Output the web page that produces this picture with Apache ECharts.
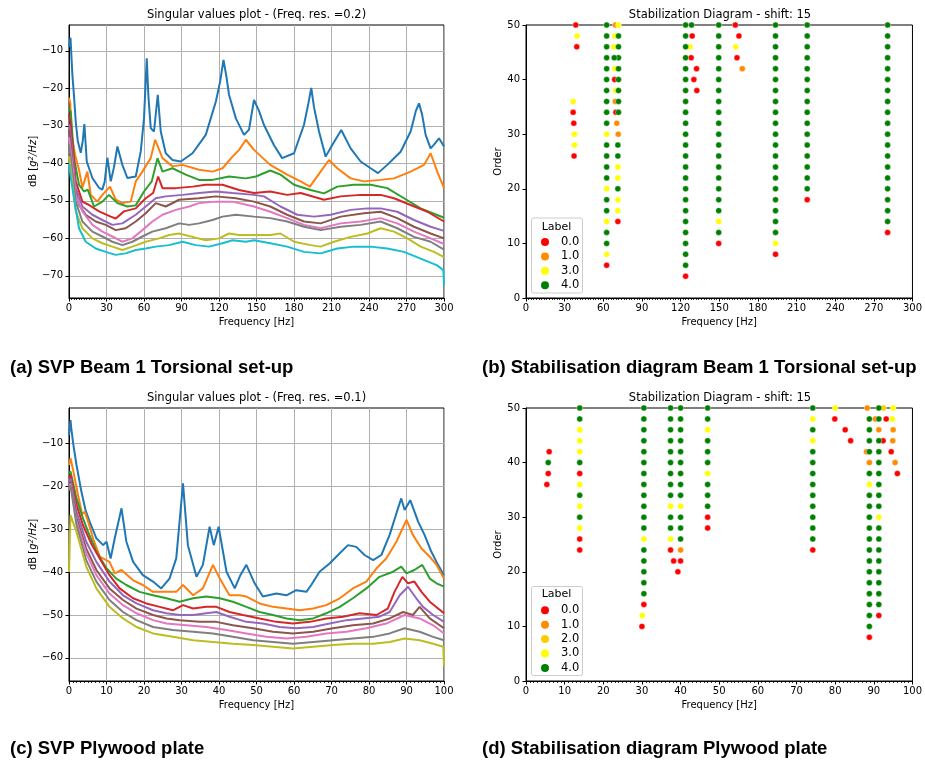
<!DOCTYPE html>
<html><head><meta charset="utf-8">
<script src="https://cdn.jsdelivr.net/npm/echarts@6/dist/echarts.min.js"></script>
<style>html,body{margin:0;padding:0;background:#fff}#c{width:925px;height:762px}</style>
</head><body><div id="c"></div>
<script>
// ---------- Panel (a): SVP Beam 1 Torsional, [freq Hz, dB] ----------
const svpA_s1 = [[0,-9],[1.2,-6.5],[2.7,-16.4],[4,-22],[5.4,-28.9],[7,-34],[9.4,-37.2],[11,-34],[12.3,-29.5],[14.2,-39.5],[18.7,-43.9],[24,-46.5],[26.6,-47],[28.5,-45],[30.7,-38.5],[33.4,-44.8],[36,-41],[38.7,-35.5],[42.7,-40.4],[46.7,-43.9],[53.4,-43.5],[57.4,-36.8],[60,-28],[62.2,-12],[63.5,-22],[65.4,-30.6],[68,-31.5],[71,-21.7],[73.4,-31.5],[77.4,-37.3],[82.8,-39.1],[89.4,-39.5],[98.8,-37.3],[109.4,-32.4],[117.5,-23.5],[121,-18],[123.6,-12.4],[126,-17],[128,-21.7],[133.5,-28],[140,-32.4],[144,-31],[148,-23.1],[149.5,-22.6],[152,-26],[155.9,-29.7],[163.9,-35.1],[170.5,-38.6],[180,-37.3],[188,-29.7],[191.5,-24],[193.8,-19.9],[196,-25],[200,-31.5],[205.3,-38.2],[210.6,-35.1],[217.8,-31.1],[225.3,-36],[233.3,-39.5],[241.3,-41.3],[247.2,-42.6],[254.6,-40.4],[265.3,-36.9],[273.3,-31.5],[277.5,-26],[280,-24],[282.5,-27],[285.3,-32.4],[289.3,-36],[292,-35],[296,-33.3],[300,-35.5]];
const svpA_s2 = [[0,-22.5],[1,-24],[2,-32],[5,-38],[8,-41.7],[10.7,-46.5],[13,-44],[14.7,-42.2],[17.4,-48.4],[22.7,-50.2],[26.7,-48.4],[32.8,-46.2],[37.4,-49.7],[42.7,-50.6],[49.4,-50.2],[53.4,-44.8],[58.7,-42.2],[65.4,-38.6],[68.9,-33.7],[74.8,-38.6],[82.8,-40.8],[90.8,-40.4],[104,-41.7],[114.8,-42.2],[122.8,-41.3],[130.8,-38.2],[136.1,-36.4],[141.5,-33.7],[148,-36.4],[161,-40.4],[174.5,-43],[185.3,-44.8],[192.7,-46.2],[201.3,-42.2],[208,-39.1],[214.6,-41.3],[225.3,-44],[236,-44.8],[249.3,-44.4],[260,-44],[273.3,-42.2],[284,-40.4],[289.3,-37.3],[294.6,-42.2],[300,-46.6]];
const svpA_s3 = [[0,-25.5],[1.4,-26.2],[4,-38.6],[8,-45.7],[12,-47.5],[15,-47],[20,-51.5],[26.7,-50.2],[32,-48.4],[38.7,-50.6],[46.7,-51.5],[53.4,-51.2],[60,-47.5],[66.2,-44.8],[70.8,-38.6],[74.8,-42.2],[82.8,-41.3],[93.4,-43],[104,-44.4],[114.8,-44.4],[128,-43.5],[141.5,-44],[149.5,-43.5],[161,-41.9],[169.2,-43],[180,-45.7],[193.3,-47.1],[204,-48],[214.6,-46.2],[228,-45.7],[241.3,-45.7],[254.6,-46.6],[268,-49.3],[281.3,-52],[300,-54.5]];
const svpA_s4 = [[0,-27],[1.4,-29.7],[5.4,-44.8],[10.7,-50.2],[16,-51.1],[24,-52.8],[33.4,-54.2],[37.4,-54.7],[44,-52.8],[53.4,-52],[61.4,-49.3],[67.3,-47.9],[71.3,-43.5],[74.8,-46.6],[85.4,-46.6],[99,-46.2],[109.4,-45.7],[122.8,-45.7],[136,-47.1],[148,-47.9],[161,-47.5],[174.5,-48.4],[185.3,-47.9],[204,-49.7],[217.3,-48.8],[233.3,-48.4],[249.3,-48.4],[260,-49.3],[273.3,-51.1],[286.7,-52.9],[300,-55.5]];
const svpA_s5 = [[0,-29.5],[1.5,-33],[5.4,-46.6],[10.7,-51.5],[18.7,-53.7],[26.7,-55.1],[34.7,-56.4],[42.7,-56],[53.4,-53.7],[61.4,-51.5],[69.4,-49.3],[77.4,-48.8],[90.8,-48.4],[104,-47.9],[117.5,-47.5],[130.8,-47.9],[148,-48.4],[156,-48.8],[169.2,-51.5],[182.6,-53.7],[196,-54.2],[209.3,-53.7],[225.3,-52.4],[238.7,-52],[249.3,-52],[262.6,-52.9],[276,-55.1],[289.3,-56.9],[300,-58]];
const svpA_s6 = [[0,-31],[1.5,-35],[4,-45.7],[8,-51.1],[13.4,-53.7],[21.4,-55.5],[29.4,-56.4],[37.4,-57.8],[45.3,-57.3],[53.4,-55.5],[61.4,-53.3],[69.4,-50.6],[77.4,-51.5],[88.1,-49.7],[104,-49.3],[117.5,-48.8],[133.5,-49.3],[148,-50.2],[161,-51.5],[174.5,-53.7],[188,-55.5],[201.3,-56],[217.3,-54.2],[236,-53.3],[249.3,-52.9],[262.6,-54.6],[276,-56.9],[289.3,-58.7],[300,-60]];
const svpA_s7 = [[0,-33],[1.5,-37],[5.4,-48.4],[10.7,-52.8],[18.7,-56.4],[26.7,-58.2],[34.7,-59.5],[42.7,-60.9],[50.7,-60],[58.7,-57.8],[66.7,-55.5],[74.8,-53.7],[85.4,-52.4],[96.1,-51.5],[104,-50.6],[117.5,-50.2],[130.8,-50.2],[148,-51.5],[161,-52.9],[174.5,-54.6],[188,-56.4],[201.3,-57.3],[217.3,-56],[233.3,-55.5],[249.3,-54.6],[262.6,-56],[276,-58.2],[289.3,-60],[300,-61.5]];
const svpA_s8 = [[0,-35],[1.5,-39],[5.4,-50.2],[10.7,-55.5],[18.7,-58.2],[26.7,-59.5],[34.7,-60.9],[42.7,-61.8],[50.7,-60.9],[58.7,-59.5],[66.7,-58.2],[77.4,-57.3],[88.1,-56],[96.1,-56.4],[104,-56],[114.8,-55.1],[122.8,-54.2],[133.5,-53.7],[148,-54.2],[161,-54.6],[174.5,-55.5],[188,-56.9],[201.3,-57.8],[217.3,-56.9],[233.3,-56.4],[249.3,-55.5],[262.6,-57.3],[276,-59.6],[289.3,-60.9],[300,-63]];
const svpA_s9 = [[0,-38],[1.5,-42],[5.4,-52.8],[10.7,-57.3],[18.7,-60],[26.7,-61.3],[34.7,-62.2],[42.7,-63.1],[50.7,-62.2],[61.4,-60.9],[72,-60],[80,-59.1],[88.1,-58.7],[98.8,-59.6],[109.4,-60.5],[120.1,-60],[128,-58.7],[136,-59.1],[148,-59.1],[161,-59.1],[169.2,-58.7],[180,-60.9],[193.3,-61.8],[201.3,-62.2],[212,-60.9],[225.3,-59.6],[238.7,-58.7],[249.3,-57.3],[260,-58.2],[270.7,-60],[281.3,-62.2],[292,-63.6],[300,-65]];
const svpA_s10 = [[0,-40],[1.5,-44],[4,-49.3],[8,-57.3],[13.4,-60.9],[21.4,-62.7],[29.4,-63.6],[37.4,-64.4],[45.3,-64],[53.4,-63.1],[61.4,-62.7],[69.4,-62.2],[80,-61.8],[90.8,-60.9],[101.4,-61.8],[112.1,-62.2],[122.8,-61.3],[130.8,-60.5],[141.5,-60.9],[148,-60.5],[161,-61.3],[174.5,-62.2],[188,-63.6],[201.3,-64],[214.6,-62.7],[228,-62.2],[241.3,-62.2],[254.6,-62.7],[268,-63.6],[281.3,-65.4],[294.6,-67.2],[299.5,-68.5],[300,-72.5]];

// ---------- Panel (c): SVP Plywood plate, [freq Hz, dB] ----------
const svpC_s1 = [[0,-8],[0.4,-4.5],[0.6,-6.4],[1.1,-9.9],[2,-15],[3.3,-21.2],[4.4,-25.5],[5.5,-28.2],[7.3,-32.1],[9.1,-33.7],[10,-32.9],[11.1,-36.8],[12.2,-32.1],[14,-25.1],[15.3,-32.9],[17.1,-37.6],[19.7,-40.7],[22.4,-42.2],[24.6,-43.8],[26.8,-41.5],[28.6,-36.8],[30.4,-19.3],[31.7,-33.7],[34,-41.1],[35.7,-38.3],[37.5,-29.4],[38.6,-33.7],[39.9,-29.4],[42,-39.9],[44.2,-43.8],[45.7,-40.7],[47.3,-38.3],[49.5,-42.6],[51.7,-45.7],[55.3,-45],[58,-45.4],[60.6,-44.2],[63.3,-44.6],[64.6,-43],[66.8,-39.9],[69.5,-38],[72.2,-35.6],[74.4,-33.7],[76.6,-34.1],[78.8,-36],[81.1,-37.2],[83.3,-36],[85.5,-31.3],[87.3,-26.3],[88.6,-22.8],[89.5,-25.5],[91,-23.2],[93.1,-28.2],[94.8,-31.3],[96.6,-35.2],[98.4,-38.3],[100,-40.7]];
const svpC_s2 = [[0,-15],[0.4,-13.4],[1.1,-16.2],[2.4,-22],[3.5,-26.5],[4.2,-25.9],[5.1,-28.2],[6.4,-32.1],[8.2,-36.4],[10.8,-37.6],[12.2,-40.3],[14,-39.5],[17.1,-41.9],[19.7,-43],[22.4,-44.6],[26,-44.6],[28.6,-44.6],[30.4,-43],[33.1,-45.4],[35.7,-43.8],[38.4,-38.3],[40.2,-41.5],[42.8,-45.4],[45.5,-45.4],[47.3,-45.7],[50.8,-47.3],[54.4,-48.1],[58,-48.5],[61.5,-48.9],[65.1,-48.5],[68.6,-47.7],[72.2,-46.1],[75.7,-43.8],[79.3,-42.2],[82,-39.1],[84.6,-36.8],[87.3,-32.9],[90,-27.8],[91.7,-31.3],[94,-34.5],[96.2,-36.4],[98,-38.3],[100,-41.5]];
const svpC_s3 = [[0,-17],[0.4,-16.5],[2,-22.8],[3.7,-27.4],[5.1,-30.6],[7.3,-35.2],[10,-39.1],[12.6,-41.5],[15.3,-43],[18.8,-44.6],[22.4,-45.4],[26,-46.1],[29.5,-46.9],[33.1,-46.1],[36.6,-45.7],[40.2,-46.1],[43.7,-46.9],[47.3,-48.1],[50.8,-49.3],[54.4,-50],[58,-50.8],[61.5,-51.2],[65.1,-50.8],[68.6,-49.6],[72.2,-48.1],[75.7,-46.1],[79.3,-43.8],[82.8,-41.1],[86.4,-39.9],[88.6,-38.7],[90,-40.3],[92.1,-39.5],[94.2,-38.3],[96.2,-41.5],[98,-42.6],[100,-43.4]];
const svpC_s4 = [[0,-18],[0.4,-17.3],[2,-24.3],[3.7,-29],[5.9,-33.3],[8.2,-36.8],[10.8,-40.7],[13.5,-43.8],[17.1,-46.1],[20.6,-47.3],[24.2,-48.1],[27.7,-48.9],[30.4,-47.7],[33.1,-48.5],[36.6,-48.1],[39.3,-48.1],[42.8,-49.3],[46.4,-50],[50.8,-50.8],[55.3,-51.6],[59.7,-52],[64.2,-51.6],[68.6,-50.8],[73.1,-50.4],[77.5,-49.6],[82,-50],[85,-48.5],[86.8,-44.6],[88.9,-41.1],[90.4,-42.6],[92.1,-42.2],[94,-44.6],[96.2,-46.9],[100,-49.6]];
const svpC_s5 = [[0,-19],[0.4,-18.1],[2,-25.9],[4.6,-32.9],[7.3,-37.6],[10.8,-42.2],[14.4,-45.4],[18,-47.3],[22.4,-48.9],[26,-49.6],[29.5,-50],[33.1,-50],[36.6,-49.6],[39.3,-49.3],[42.8,-50.4],[47.3,-51.6],[51.7,-52],[56.2,-52.8],[60.6,-53.1],[65.1,-52.8],[69.5,-52],[74,-51.2],[78.4,-50.8],[82.8,-50.4],[85.5,-49.3],[88.2,-45.4],[90.4,-43.4],[92.6,-46.1],[94.4,-48.1],[97.1,-50],[100,-51.6]];
const svpC_s6 = [[0,-20],[0.4,-18.9],[2,-27.4],[4.6,-34.5],[7.3,-39.5],[10.8,-43.8],[14.4,-46.5],[18,-48.5],[22.4,-50],[26,-50.8],[29.5,-51.2],[34.8,-51.6],[39.3,-51.6],[43.7,-52.4],[49.1,-53.1],[54.4,-53.9],[59.7,-54.3],[65.1,-53.9],[70.4,-53.1],[75.7,-52.4],[81.1,-52],[85.5,-50.8],[89.1,-49.3],[91.7,-50],[93.5,-48.1],[96.2,-50.8],[100,-53.1]];
const svpC_s7 = [[0,-20.5],[0.4,-19.3],[2,-28.2],[4.6,-35.6],[7.3,-40.7],[10.8,-45],[14.4,-47.7],[18,-49.6],[22.4,-51.2],[26,-52],[31.3,-52.4],[36.6,-52.8],[42,-53.5],[47.3,-54.3],[52.6,-55.1],[58,-55.5],[63.3,-55.1],[68.6,-54.3],[74,-53.9],[79.3,-53.1],[84.6,-52],[89.5,-50],[93.5,-50.8],[97.1,-52.4],[100,-54.3]];
const svpC_s8 = [[0,-21],[0.4,-19.7],[2,-29],[4.6,-37.2],[7.3,-42.2],[10.8,-46.5],[14.4,-49.3],[18,-51.2],[22.4,-52.8],[27.7,-53.5],[33.1,-53.9],[38.4,-54.3],[43.7,-55.1],[49.1,-55.9],[54.4,-56.3],[59.7,-56.7],[65.1,-56.3],[70.4,-55.9],[75.7,-55.5],[81.1,-55.1],[85.5,-54.3],[89.5,-53.1],[93.5,-53.9],[97.1,-55.1],[100,-55.9]];
const svpC_s9 = [[0,-40],[0.4,-26.7],[2,-30.6],[4.6,-38.7],[7.3,-43.8],[10.8,-48.1],[14.4,-50.8],[18,-52.8],[22.4,-54.3],[27.7,-55.1],[33.1,-55.9],[38.4,-56.3],[43.7,-56.7],[49.1,-57],[54.4,-57.4],[59.7,-57.8],[65.1,-57.4],[70.4,-57],[75.7,-56.7],[81.1,-56.7],[85.5,-56.3],[89.5,-55.5],[93.5,-55.9],[97.1,-56.7],[99.8,-57.4],[100,-62]];

// ---------- Panel (b): stabilisation columns (labels listed from 'top' order downwards in steps of 2) ----------
const colsB = [
  {f:62.6, top:50, labels:[4,4,4,4,4,4,4,4,4,4,3,4,4,4,4,3,4,4,3,4,4,3,0]},
  {f:71.8, top:50, labels:[3,4,4,4,4,4,4,4,4]},
  {f:71.3, top:28, labels:[4,4,3,3,4,3,3,0]},
  {f:123.9, top:50, labels:[4,4,4,4,4,4,4,4,4,4,4,4,4,4,4,4,4,4,4,4,4,4,4,0]},
  {f:149.6, top:50, labels:[4,4,4,4,4,4,4,4,4,4,4,4,4,4,4,4,4,4,3,4,0]},
  {f:193.7, top:50, labels:[4,4,4,4,4,4,4,4,4,4,4,4,4,4,4,4,4,4,4,4,3,0]},
  {f:218.3, top:50, labels:[4,4,4,4,4,4,4,4,4,4,4,4,4,4,4,4,0]},
  {f:280.7, top:50, labels:[4,4,4,4,4,4,4,4,4,4,4,4,4,4,4,4,4,4,4,0]}
];
// [freq, order, label]
const extraB = [[38.6,50,0],[39.7,48,3],[39.4,46,0],[36.6,36,3],[36.6,34,0],[37.1,32,0],[37.6,30,3],[37.6,28,3],[37.3,26,0],
  [69.5,50,1],[69,48,3],[68.2,46,3],[68.5,44,4],[69,42,3],[68.8,40,0],[69.5,38,3],[69.3,36,1],[69.8,34,0],[70.5,32,1],[71.6,30,1],
  [128.5,50,4],[129,48,0],[127.2,46,3],[128.2,44,0],[132.4,42,0],[130.3,40,0],[132.6,38,0],
  [162.5,50,0],[165.3,48,0],[162.8,46,3],[163.8,44,0],[167.9,42,1]];
const labelsB = [0,1,3,4];

// ---------- Panel (d) ----------
const colsD = [
  {f:13.9, top:50, labels:[4,4,3,3,3,4,0,3,4,3,4,3,0,0]},
  {f:30.5, top:50, labels:[4,4,4,4,4,4,4,4,4,4,4,4,3,4,4,4,4,4,0]},
  {f:37.4, top:50, labels:[4,4,4,4,4,4,4,4,4,3,4,4,3,0]},
  {f:40.0, top:50, labels:[4,4,4,4,4,4,4,4,4,3,4,4,4,1,0]},
  {f:47.0, top:50, labels:[4,4,3,4,4,4,3,4,4,4,0,0]},
  {f:74.2, top:50, labels:[4,3,4,3,4,4,4,4,4,4,4,4,4,0]},
  {f:88.85, top:48, labels:[4,4,4,4,1,4,3,4,4,4,4,4,4,4,4,4,4,4,4,4,0]},
  {f:91.3, top:50, labels:[4,4,1,4,4,4,4,4,4,4,3,4,4,4,4,4,4,4,4,0]}
];
const extraD = [[6.0,42,0],[5.75,40,4],[5.75,38,0],[5.4,36,0],[30.1,12,3],[30.0,10,0],[38.2,22,0],[39.3,20,0],
  [80,50,3],[79.9,48,0],[82.6,46,0],[84,44,0],
  [88.3,50,1],[88.1,42,1],[90.4,48,1],[92.5,50,2],[95,50,3],[93.2,48,0],[94.8,48,3],[95,46,1],[92.4,44,0],[94.9,44,1],[94.5,42,0],[95.5,40,1],[96.1,38,0]];
const labelsD = [0,1,2,3,4];

const ticksA_y = [-70,-60,-50,-40,-30,-20,-10];
const ticksC_y = [-60,-50,-40,-30,-20,-10];

// ---------- build ----------
const tab10 = ['#1f77b4','#ff7f0e','#2ca02c','#d62728','#9467bd','#8c564b','#e377c2','#7f7f7f','#bcbd22','#17becf'];
const labelColor = {0:'#ff0000',1:'#ff8c00',2:'#ffcc00',3:'#ffff00',4:'#008000'};
const FONT = 'DejaVu Sans';
const minusFmt = v => (v < 0 ? '\u2212' + (-v) : '' + v);

function expand(cols, extra) {
  const pts = [];
  cols.forEach(c => c.labels.forEach((l, i) => pts.push([c.f, c.top - 2 * i, l])));
  return pts.concat(extra);
}
const ptsB = expand(colsB, extraB);
const ptsD = expand(colsD, extraD);

const grids = [
  {left:69, top:25, width:375, height:273},
  {left:526, top:25, width:388, height:273},
  {left:69, top:408, width:375, height:273},
  {left:526, top:408, width:388, height:273}
].map(g => Object.assign({show:true, borderColor:'#000', borderWidth:1, backgroundColor:'transparent'}, g));

function xAx(gi, max, interval, minorSplit, grid) {
  return {type:'value', gridIndex:gi, min:0, max:max, interval:interval,
    name:'Frequency [Hz]', nameLocation:'middle', nameGap:19,
    nameTextStyle:{fontFamily:FONT, fontSize:10, color:'#000'},
    axisLine:{show:true, onZero:false, lineStyle:{color:'#000', width:1}},
    axisTick:{show:true, length:3.5, lineStyle:{color:'#000'}},
    minorTick:{show:true, splitNumber:minorSplit, length:2, lineStyle:{color:'#000', width:0.8}},
    axisLabel:{fontFamily:FONT, fontSize:10, color:'#000', margin:5},
    splitLine:{show:grid, lineStyle:{color:'#b0b0b0', width:1}}};
}
function yAxSvp(gi, min, max, ticks) {
  return {type:'value', gridIndex:gi, min:min, max:max,
    name:'dB [{it|g}{sup|2}{it|/Hz}]', nameLocation:'middle', nameGap:30,
    nameTextStyle:{fontFamily:FONT, fontSize:10, color:'#000',
      rich:{it:{fontFamily:FONT, fontStyle:'italic', fontSize:10}, sup:{fontFamily:FONT, fontStyle:'italic', fontSize:7, verticalAlign:'top', lineHeight:10}}},
    axisLine:{show:true, onZero:false, lineStyle:{color:'#000', width:1}},
    axisTick:{show:true, length:3.5, lineStyle:{color:'#000'}, customValues:ticks},
    axisLabel:{fontFamily:FONT, fontSize:10, color:'#000', margin:6, formatter:minusFmt, customValues:ticks},
    splitLine:{show:true, lineStyle:{color:'#b0b0b0', width:1}}};
}
function yAxStab(gi) {
  return {type:'value', gridIndex:gi, min:0, max:50, interval:10,
    name:'Order', nameLocation:'middle', nameGap:22,
    nameTextStyle:{fontFamily:FONT, fontSize:10, color:'#000'},
    axisLine:{show:true, onZero:false, lineStyle:{color:'#000', width:1}},
    axisTick:{show:true, length:3.5, lineStyle:{color:'#000'}},
    axisLabel:{fontFamily:FONT, fontSize:10, color:'#000', margin:6},
    splitLine:{show:false}};
}

const series = [];
[svpA_s1,svpA_s2,svpA_s3,svpA_s4,svpA_s5,svpA_s6,svpA_s7,svpA_s8,svpA_s9,svpA_s10].forEach((d,i) => {
  series.push({type:'line', name:'svA'+i, xAxisIndex:0, yAxisIndex:0, data:d, showSymbol:false, symbol:'none',
    lineStyle:{color:tab10[i], width:2}, itemStyle:{color:tab10[i]}, silent:true});
});
[svpC_s1,svpC_s2,svpC_s3,svpC_s4,svpC_s5,svpC_s6,svpC_s7,svpC_s8,svpC_s9].forEach((d,i) => {
  series.push({type:'line', name:'svC'+i, xAxisIndex:2, yAxisIndex:2, data:d, showSymbol:false, symbol:'none',
    lineStyle:{color:tab10[i], width:2}, itemStyle:{color:tab10[i]}, silent:true});
});
function stabSeries(pts, labels, ai) {
  labels.forEach(l => {
    series.push({type:'scatter', name:l.toFixed(1), xAxisIndex:ai, yAxisIndex:ai,
      data: pts.filter(p => p[2] === l).map(p => [p[0], p[1]]),
      symbol:'circle', symbolSize:6,
      itemStyle:{color:labelColor[l], borderColor:'#fff', borderWidth:0.4, opacity:1}});
  });
}
stabSeries(ptsB, labelsB, 1);
stabSeries(ptsD, labelsD, 3);

function legendFor(labels, top) {
  return {orient:'vertical', left:534, top:top, itemWidth:22, itemHeight:10, itemGap:2.4, icon:'circle',
    data: labels.map(l => l.toFixed(1)), selectedMode:false,
    textStyle:{fontFamily:FONT, fontSize:11.5, color:'#000'}};
}
function legendBox(y, h, titleY) {
  return [
    {type:'rect', shape:{x:531.5, y:y, width:51, height:h, r:2}, style:{fill:'#fff', stroke:'#cccccc', lineWidth:1}, z:3},
    {type:'text', x:556.5, y:titleY, style:{text:'Label', fontFamily:FONT, fontSize:11, fill:'#000', align:'center', verticalAlign:'middle'}, z:4}
  ];
}
function tText(txt, x, y) {
  return {type:'text', x:x, y:y, style:{text:txt, fontFamily:FONT, fontSize:11.5, fill:'#000', align:'center', verticalAlign:'middle'}};
}
function caption(txt, x, y) {
  return {type:'text', x:x, y:y, style:{text:txt, fontFamily:'Liberation Sans', fontWeight:'bold', fontSize:18.5, fill:'#000', align:'left', verticalAlign:'middle'}};
}

const option = {
  animation:false,
  backgroundColor:'#fff',
  grid: grids,
  xAxis: [xAx(0,300,30,15,true), xAx(1,300,30,15,false), xAx(2,100,10,10,true), xAx(3,100,10,10,false)],
  yAxis: [yAxSvp(0,-75.9,-3.1,ticksA_y), yAxStab(1), yAxSvp(2,-65.4,-1.7,ticksC_y), yAxStab(3)],
  legend: [legendFor(labelsB, 231), legendFor(labelsD, 599.3)],
  graphic: [
    tText('Singular values plot - (Freq. res. =0.2)', 256.5, 15.5),
    tText('Stabilization Diagram - shift: 15', 720, 15.5),
    tText('Singular values plot - (Freq. res. =0.1)', 256.5, 398.5),
    tText('Stabilization Diagram - shift: 15', 720, 398.5),
    caption('(a) SVP Beam 1 Torsional set-up', 10, 368),
    caption('(b) Stabilisation diagram Beam 1 Torsional set-up', 482, 368),
    caption('(c) SVP Plywood plate', 10, 749),
    caption('(d) Stabilisation diagram Plywood plate', 482, 749)
  ].concat(legendBox(218, 75, 227)).concat(legendBox(586.5, 89, 594.3)),
  series: series
};
const chart = echarts.init(document.getElementById('c'), null, {renderer:'canvas'});
chart.setOption(option);
</script></body></html>
